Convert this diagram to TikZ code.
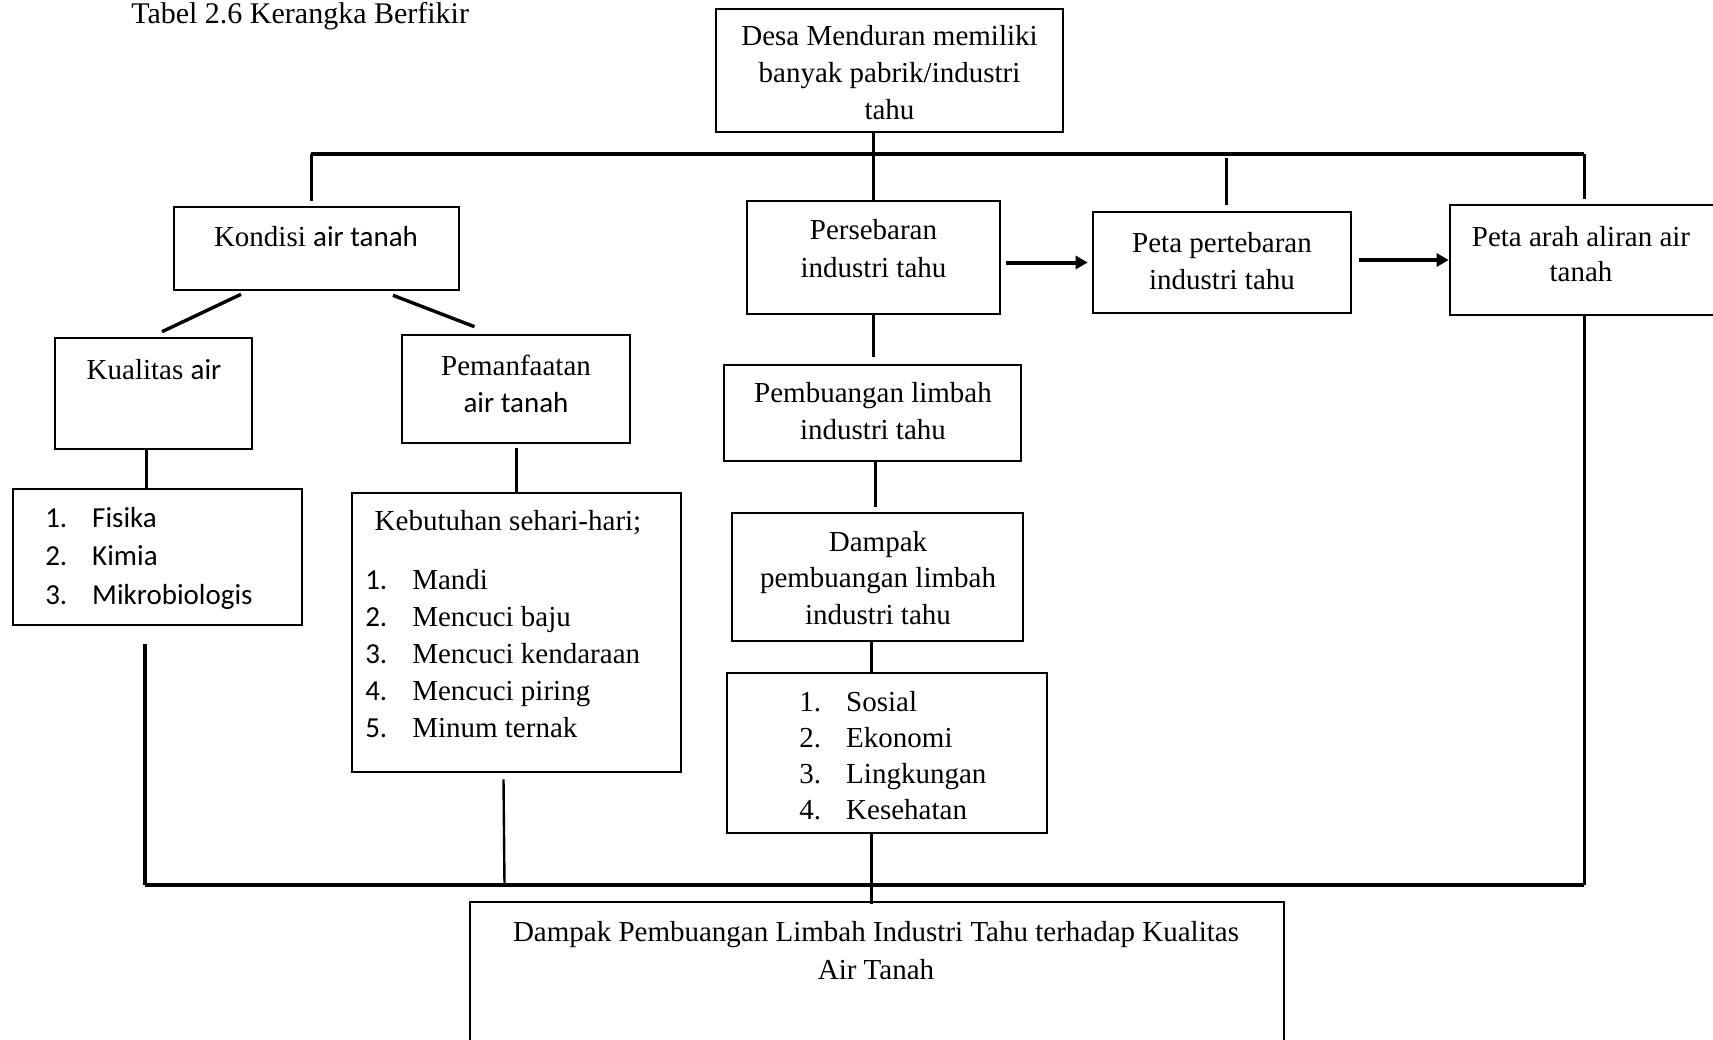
\documentclass[tikz,border=0pt]{standalone}
\usepackage{fontspec}
\setmainfont{Liberation Serif}
\newfontfamily\calfont{Carlito}
\usetikzlibrary{arrows.meta,fit,calc}

\tikzset{every picture/.style={line width=0.75pt}}
\tikzset{
  kotak/.style={draw, line width=1.3pt, inner sep=0pt},
  teks/.style={inner sep=0.75pt, align=center, font=\fontsize{14.5}{18.5}\selectfont},
  daftar/.style={inner sep=0.75pt, align=left, anchor=west, font=\fontsize{14.5}{18.5}\selectfont},
  garis/.style={line width=1.5pt},
  rel/.style={line width=2pt},
  panah/.style={line width=2pt, -{Triangle[length=6pt,width=6.5pt]}},
}
\newcommand{\nmr}[2]{\makebox[23.5pt][l]{#1}#2}

\begin{document}
\begin{tikzpicture}[x=0.5pt,y=0.5pt,yscale=-1,xscale=1]
	\useasboundingbox (0,0) rectangle (1713,1039);

	%Shape: Rectangle [boxes]
	\node[kotak, fit={(716,9) (1063,132)}] (desa) {};
	\node[kotak, fit={(174,207) (459,290)}] (kondisi) {};
	\node[kotak, fit={(747,201) (1000,314)}] (persebaran) {};
	\node[kotak, fit={(1093,212) (1351,313)}] (pertebaran) {};
	\node[kotak, fit={(1450,205) (1718,315)}] (arah) {};
	\node[kotak, fit={(55,338) (252,449)}] (kualitas) {};
	\node[kotak, fit={(402,335) (630,443)}] (pemanfaatan) {};
	\node[kotak, fit={(13,489) (302,625)}] (fisika) {};
	\node[kotak, fit={(352,493) (681,772)}] (kebutuhan) {};
	\node[kotak, fit={(724,365) (1021,461)}] (pembuangan) {};
	\node[kotak, fit={(732,513) (1023,641)}] (dampak) {};
	\node[kotak, fit={(727,673) (1047,833)}] (sosial) {};
	\node[kotak, fit={(470,902) (1284,1050)}] (hasil) {};

	% Text Node
	\node[teks, anchor=base west, font=\fontsize{15}{18}\selectfont] (judul) at (129,23) {Tabel 2.6 Kerangka Berfikir};
	% Text Node
	\node[teks] (desaT) at (889.5,73) {Desa Menduran memiliki\\banyak pabrik/industri\\tahu};
	% Text Node
	\node[teks] (kondisiT) at (316,237) {Kondisi {\calfont air tanah}};
	% Text Node
	\node[teks, font=\fontsize{14.5}{19}\selectfont] (persebaranT) at (873.5,249) {Persebaran\\industri tahu};
	% Text Node
	\node[teks] (pertebaranT) at (1222,261.5) {Peta pertebaran\\industri tahu};
	% Text Node
	\node[teks, font=\fontsize{14.5}{17.5}\selectfont] (arahT) at (1581,254.5) {Peta arah aliran air\\tanah};
	% Text Node
	\node[teks] (kualitasT) at (154,370) {Kualitas {\calfont air}};
	% Text Node
	\node[teks] (pemanfaatanT) at (516,383.5) {Pemanfaatan\\{\calfont air tanah}};
	% Text Node
	\node[daftar, font=\calfont\fontsize{14.5}{19.25}\selectfont] (fisikaT) at (43,558) {\nmr{1.}{Fisika}\\\nmr{2.}{Kimia}\\\nmr{3.}{Mikrobiologis}};
	% Text Node
	\node[teks] (kebutuhanJudul) at (508,523) {Kebutuhan sehari-hari;};
	% Text Node
	\node[daftar] (kebutuhanT) at (363,654) {\nmr{\calfont 1.}{Mandi}\\\nmr{\calfont 2.}{Mencuci baju}\\\nmr{\calfont 3.}{Mencuci kendaraan}\\\nmr{\calfont 4.}{Mencuci piring}\\\nmr{\calfont 5.}{Minum ternak}};
	% Text Node
	\node[teks] (pembuanganT) at (873,411.5) {Pembuangan limbah\\industri tahu};
	% Text Node
	\node[teks, font=\fontsize{14.5}{18.25}\selectfont] (dampakT) at (878,578) {Dampak\\pembuangan limbah\\industri tahu};
	% Text Node
	\node[daftar, font=\fontsize{14.5}{18}\selectfont] (sosialT) at (797,756) {\nmr{1.}{Sosial}\\\nmr{2.}{Ekonomi}\\\nmr{3.}{Lingkungan}\\\nmr{4.}{Kesehatan}};
	% Text Node
	\node[teks, font=\fontsize{14.5}{19}\selectfont] (hasilT) at (876,951) {Dampak Pembuangan Limbah Industri Tahu terhadap Kualitas\\Air Tanah};

	%Straight Lines [top bus]
	\coordinate (atasKiri) at (311,154);
	\coordinate (atasKanan) at (arah.north |- atasKiri);
	\draw[rel] (atasKiri) -- (atasKanan);
	\draw[garis] (persebaran.north |- desa.south) -- (persebaran.north);
	\draw[garis] (atasKiri) -- ($(atasKiri |- kondisi.north)+(0,-5)$);
	\draw[garis] ($(pertebaran.north |- atasKiri)+(4,4)$) -- ($(pertebaran.north)+(4,-6)$);
	\draw[garis] (atasKanan) -- ($(arah.north)+(0,-5)$);

	%Arrows
	\draw[panah, shorten <=2.5pt, shorten >=2pt] (persebaran.east |- pertebaran.west) -- (pertebaran.west);
	\draw[panah, shorten <=3.5pt] (pertebaran.east |- arah.west) -- (arah.west);

	%Straight Lines [left branch]
	\draw[garis, line width=1.7pt] ($(kondisi.south)+(-75.5,3)$) -- ($(kualitas.north)+(8.5,-5)$);
	\draw[garis, line width=1.7pt] ($(kondisi.south)+(76.5,4)$) -- ($(pemanfaatan.north)+(-41.5,-7)$);
	\draw[garis] ($(kualitas.south)+(-7.5,0)$) -- ($(kualitas.south |- fisika.north)+(-7.5,0)$);
	\draw[garis] ($(pemanfaatan.south)+(0,4)$) -- (pemanfaatan.south |- kebutuhan.north);

	%Straight Lines [middle branch]
	\draw[garis] (persebaran.south) -- ($(persebaran.south |- pembuangan.north)+(0,-7)$);
	\draw[garis] ($(pembuangan.south)+(3,0)$) -- ($(pembuangan.south |- dampak.north)+(3,-5)$);
	\draw[garis] ($(dampak.south)+(-6.5,0)$) -- ($(dampak.south |- sosial.north)+(-6.5,0)$);
	\draw[garis] ($(sosial.south)+(-16,0)$) -- ($(sosial.south |- hasil.north)+(-16,3)$);

	%Straight Lines [bottom bus]
	\coordinate (bawahKiri) at (145,885);
	\coordinate (bawahKanan) at (arah.south |- bawahKiri);
	\draw[rel] (bawahKiri) -- (bawahKanan);
	\draw[garis, line width=1.8pt] ($(fisika.south)+(-12.5,18)$) -- (bawahKiri);
	\draw[garis, line width=1.2pt] ($(kebutuhan.south)+(-13,6)$) -- ($(kebutuhan.south |- bawahKiri)+(-12,0)$);
	\draw[garis] (arah.south) -- (bawahKanan);
\end{tikzpicture}
\end{document}
